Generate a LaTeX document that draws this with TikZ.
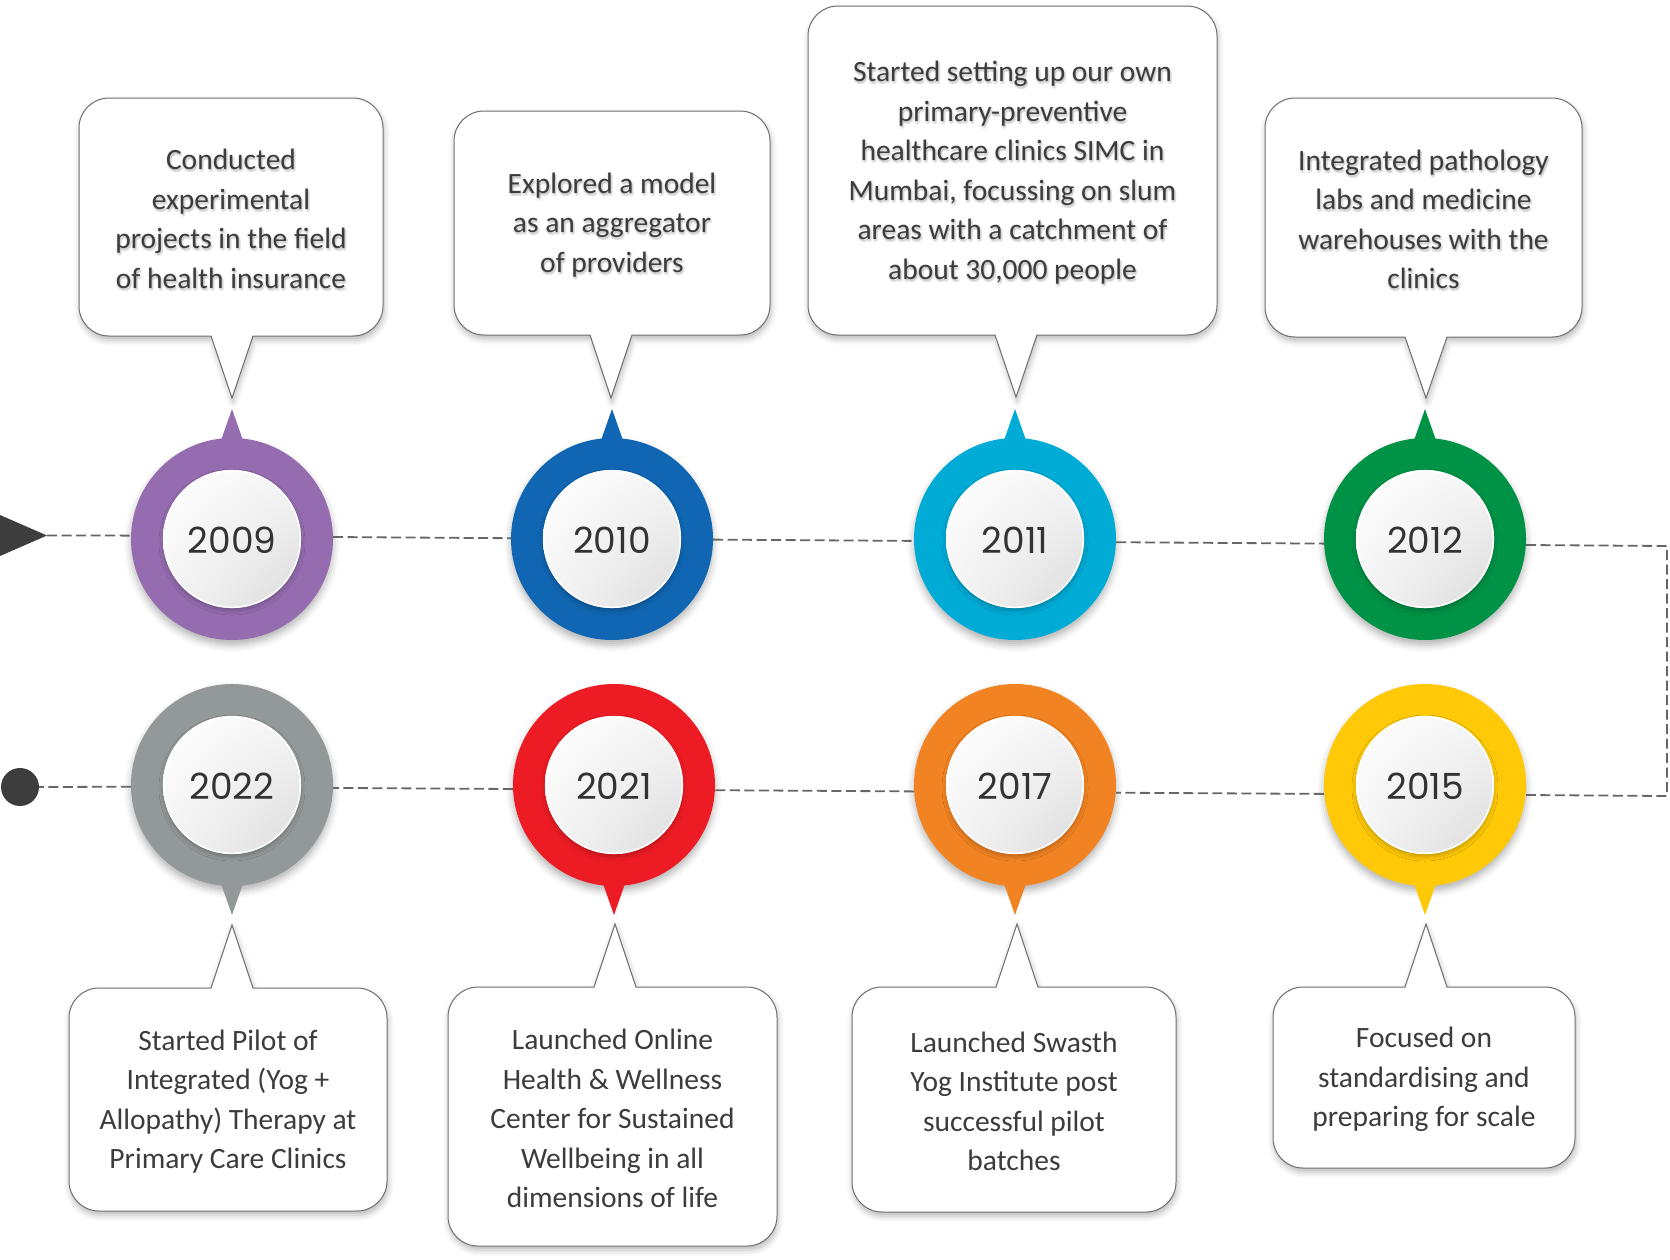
\documentclass[tikz,border=0pt]{standalone}
\usepackage{fontspec}
\setmainfont{Carlito}
\newfontfamily\yearfont{Poppins}
\usetikzlibrary{shadows.blur,shadings}
\definecolor{cpurple}{HTML}{946CAF}
\definecolor{cblue}{HTML}{1066B2}
\definecolor{ccyan}{HTML}{00ABD6}
\definecolor{cgreen}{HTML}{009245}
\definecolor{cgray}{HTML}{939899}
\definecolor{cred}{HTML}{ED1C24}
\definecolor{corange}{HTML}{F28322}
\definecolor{cyellow}{HTML}{FFC907}
\definecolor{txt}{HTML}{3C3C3C}
\definecolor{yeartxt}{HTML}{333333}
\definecolor{boxgray}{HTML}{6E6E6E}
\definecolor{dashgray}{HTML}{666666}
\definecolor{darkmark}{HTML}{3D3D3D}
\tikzset{
  boxline/.style={draw=boxgray, line width=1pt, fill=white,
    blur shadow={shadow xshift=1pt, shadow yshift=-4pt, shadow blur radius=6pt, shadow opacity=28}},
  boxtext/.style={align=center, text=txt, font=\fontsize{29.5}{39.5}\selectfont, inner sep=0pt},
  boxglow/.style={boxtext, text=black, text opacity=0.06},
  yeartext/.style={text=yeartxt, font=\yearfont\fontsize{36}{40}\selectfont, inner sep=0pt},
  disc/.style={circle, minimum size=202pt, inner sep=0pt, fill=#1,
    blur shadow={shadow xshift=0pt, shadow yshift=-5pt, shadow blur radius=7pt, shadow opacity=30}},
  tline/.style={draw=dashgray, line width=1.8pt, dash pattern=on 10pt off 4.5pt},
}
% top callout: name, x1, y1, x2, y2, pointer x, tip y, text
\newcommand{\topcallout}[8]{%
  \draw[boxline] (#6-21,-#5) -- (#2+30,-#5) arc[start angle=270,end angle=180,radius=30pt]
    -- (#2,-#3-30) arc[start angle=180,end angle=90,radius=30pt]
    -- (#4-30,-#3) arc[start angle=90,end angle=0,radius=30pt]
    -- (#4,-#5+30) arc[start angle=0,end angle=-90,radius=30pt]
    -- (#6+21,-#5) -- (#6,-#7) -- cycle;
  \foreach \dx/\dy in {1/-2,2/-3,0/-3,2/-1,-1/-1}{
    \node[boxglow] at ({(#2+#4)/2+\dx},{-(#3+#5)/2-2+\dy}) {#8};}
  \node[boxtext] (#1) at ({(#2+#4)/2},{-(#3+#5)/2-2}) {#8};
}
% bottom callout: name, x1, y1, x2, y2, pointer x, tip y, text
\newcommand{\botcallout}[8]{%
  \draw[boxline] (#6+21,-#3) -- (#4-30,-#3) arc[start angle=90,end angle=0,radius=30pt]
    -- (#4,-#5+30) arc[start angle=0,end angle=-90,radius=30pt]
    -- (#2+30,-#5) arc[start angle=270,end angle=180,radius=30pt]
    -- (#2,-#3-30) arc[start angle=180,end angle=90,radius=30pt]
    -- (#6-21,-#3) -- (#6,-#7) -- cycle;
  \node[boxtext] (#1) at ({(#2+#4)/2},{-(#3+#5)/2-2}) {#8};
}
% year pin: name, cx, cy, colour, year, direction (1 up, -1 down)
\newcommand{\yearpin}[6]{%
  \node[disc=#4] (#1) at (#2,-#3) {};
  \fill[#4] (#2-13,{-#3+#6*93}) -- (#2,{-#3+#6*130}) -- (#2+13,{-#3+#6*93}) -- cycle;
  \shade[upper left=white, upper right=black!4, lower left=black!4, lower right=black!14,
    blur shadow={shadow xshift=0pt, shadow yshift=-3pt, shadow blur radius=4pt, shadow opacity=22}]
    (#1.center) circle[radius=69pt];
  \draw[white, line width=1.5pt] (#1.center) circle[radius=68.3pt];
  \node[yeartext] (y#1) at ([yshift=-1.5pt]#1.center) {#5};
}
\begin{document}
\begin{tikzpicture}[x=1pt,y=1pt]
\useasboundingbox (0,0) rectangle (1670,-1259);

% callouts
\topcallout{t2009}{79}{98}{383}{336}{232}{398}{Conducted\\experimental\\projects in the field\\of health insurance}
\topcallout{t2010}{454}{111}{770}{335}{611}{398}{Explored a model\\as an aggregator\\of providers}
\topcallout{t2011}{808}{6}{1217}{335}{1016}{397}{Started setting up our own\\primary-preventive\\healthcare clinics SIMC in\\Mumbai, focussing on slum\\areas with a catchment of\\about 30,000 people}
\topcallout{t2012}{1265}{98}{1582}{337}{1426}{398}{Integrated pathology\\labs and medicine\\warehouses with the\\clinics}

\botcallout{b2022}{69}{988}{387}{1211}{232}{925}{Started Pilot of\\Integrated (Yog +\\Allopathy) Therapy at\\Primary Care Clinics}
\botcallout{b2021}{448}{987}{777}{1246}{615}{924}{Launched Online\\Health \& Wellness\\Center for Sustained\\Wellbeing in all\\dimensions of life}
\botcallout{b2017}{852}{987}{1176}{1212}{1017}{924}{Launched Swasth\\Yog Institute post\\successful pilot\\batches}
\botcallout{b2015}{1273}{987}{1575}{1168}{1426}{924}{Focused on\\standardising and\\preparing for scale}

% year pins
\yearpin{c2009}{232}{539}{cpurple}{2009}{1}
\yearpin{c2010}{612}{539}{cblue}{2010}{1}
\yearpin{c2011}{1015}{539}{ccyan}{2011}{1}
\yearpin{c2012}{1425}{539}{cgreen}{2012}{1}
\yearpin{c2022}{232}{785}{cgray}{2022}{-1}
\yearpin{c2021}{614}{785}{cred}{2021}{-1}
\yearpin{c2017}{1015}{785}{corange}{2017}{-1}
\yearpin{c2015}{1425}{785}{cyellow}{2015}{-1}

% start arrow and end dot
\coordinate (start) at (47,-535.5);
\fill[darkmark] (0,-515) -- (start) -- (0,-556) -- cycle;
\node[circle, fill=darkmark, minimum size=38pt, inner sep=0pt] (enddot) at (20,-787) {};

% dashed timeline
\draw[tline] (start) -- ([yshift=3.4pt]c2009.west);
\draw[tline] ([yshift=2pt]c2009.east) -- ([yshift=0.8pt]c2010.west);
\draw[tline] ([yshift=-0.6pt]c2010.east) -- ([yshift=-1.9pt]c2011.west);
\draw[tline] ([yshift=-3.2pt]c2011.east) -- ([yshift=-4.6pt]c2012.west);
\draw[tline] ([yshift=-6pt]c2012.east) -- (1667,-546) coordinate (turnA)
  -- (1667,-796) coordinate (turnB) -- ([yshift=-10pt]c2015.east);
\draw[tline] ([yshift=-8.9pt]c2015.west) -- ([yshift=-7.7pt]c2017.east);
\draw[tline] ([yshift=-6.4pt]c2017.west) -- ([yshift=-5.2pt]c2021.east);
\draw[tline] ([yshift=-4pt]c2021.west) -- ([yshift=-2.9pt]c2022.east);
\draw[tline] ([yshift=-1.7pt]c2022.west) -- (enddot.east);
\end{tikzpicture}
\end{document}
